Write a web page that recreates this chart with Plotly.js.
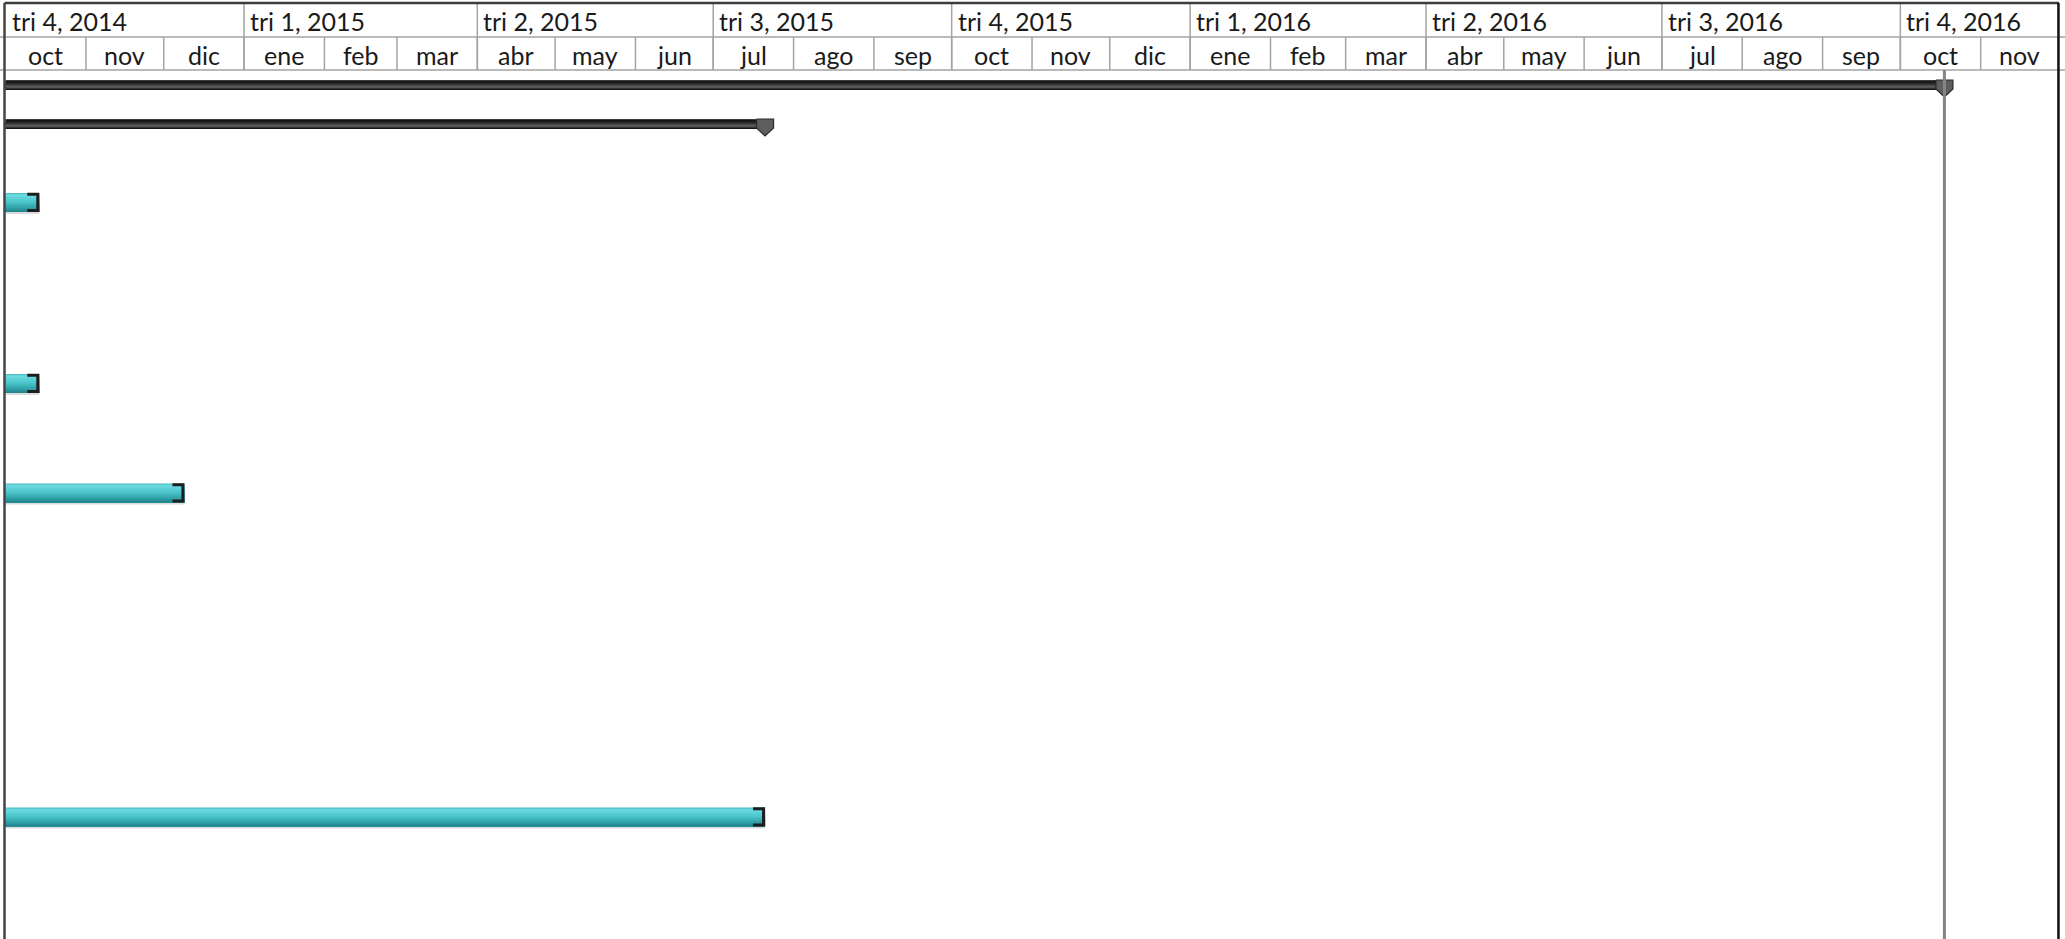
<!DOCTYPE html>
<html>
<head>
<meta charset="utf-8">
<script src="https://cdn.plot.ly/plotly-3.0.1.min.js"></script>
<style>
  html, body { margin: 0; padding: 0; background: #ffffff; }
  #chart { width: 2065px; height: 939px; }
</style>
</head>
<body>
<div id="chart"></div>
<script>
// ---------------- DATA ----------------
const taskIds     = [1, 2, 3, 4, 5, 6];
const taskType    = ['summary', 'summary', 'task', 'task', 'task', 'task'];
const taskStart   = ['2014-10-01', '2014-10-01', '2014-10-01', '2014-10-01', '2014-10-01', '2014-10-01'];
const taskFinish  = ['2016-10-17', '2015-07-20', '2014-10-13', '2014-10-13', '2014-12-08', '2015-07-20'];
const statusDate  = '2016-10-18';

const quarterStarts = ['2014-10-01', '2015-01-01', '2015-04-01', '2015-07-01', '2015-10-01',
                       '2016-01-01', '2016-04-01', '2016-07-01', '2016-10-01'];
const quarterLabels = ['tri 4, 2014', 'tri 1, 2015', 'tri 2, 2015', 'tri 3, 2015', 'tri 4, 2015',
                       'tri 1, 2016', 'tri 2, 2016', 'tri 3, 2016', 'tri 4, 2016'];
const monthLabels = ['oct', 'nov', 'dic', 'ene', 'feb', 'mar', 'abr', 'may', 'jun', 'jul', 'ago', 'sep',
                     'oct', 'nov', 'dic', 'ene', 'feb', 'mar', 'abr', 'may', 'jun', 'jul', 'ago', 'sep',
                     'oct', 'nov'];
const firstMonth = '2014-10-01';

// ---------------- LAYOUT HELPERS ----------------
const W = 2065, H = 939;
const DAY = 86400000;
const toMs = s => { const [Y, M, D] = s.split('-').map(Number); return Date.UTC(Y, M - 1, D); };
const pxPerDay = 2.592;
const msPerPx = DAY / pxPerDay;
const xStart = toMs(firstMonth) - 5.6 * msPerPx;
const xEnd = xStart + W * msPerPx;

// vertical row centres (y axis units = pixels from top of figure)
const rowCenter = [85, 124, 202.5, 383.5, 493, 817];
const hdrTop = 3, hdrMid = 37, hdrBot = 70;
const summaryH = 10, taskH = 19;

function hexToRgb(h) { h = h.replace('#', ''); return [0, 2, 4].map(i => parseInt(h.substr(i, 2), 16)); }
function interp(stops, t) {
  for (let i = 0; i < stops.length - 1; i++) {
    const [t0, c0] = stops[i], [t1, c1] = stops[i + 1];
    if (t >= t0 && t <= t1) {
      const f = (t - t0) / (t1 - t0 || 1);
      const a = hexToRgb(c0), b = hexToRgb(c1);
      return 'rgb(' + a.map((v, k) => Math.round(v + (b[k] - v) * f)).join(',') + ')';
    }
  }
  return stops[stops.length - 1][1];
}
const teal = [[0, '#35a9b1'], [0.08, '#6fdce3'], [0.45, '#4cc6cd'], [0.8, '#2e9ea5'], [1, '#1f7f87']];
const dark = [[0, '#5a5a5a'], [0.12, '#141414'], [0.35, '#262626'], [0.7, '#626262'], [0.86, '#303030'], [1, '#080808']];

const traces = [];
function bandTraces(type, h, stops, N) {
  const idx = taskIds.map((_, i) => i).filter(i => taskType[i] === type);
  const bh = h / N;
  for (let b = 0; b < N; b++) {
    // each band covers from its own top to the bar bottom; later bands paint over lower part
    const rem = h - bh * b;
    const off = -h / 2 + bh * b + rem / 2;
    traces.push({
      type: 'bar', orientation: 'h',
      y: idx.map(i => rowCenter[i] + off),
      base: idx.map(i => toMs(taskStart[i])),
      x: idx.map(i => toMs(taskFinish[i]) + DAY - toMs(taskStart[i])),
      width: idx.map(() => rem),
      marker: { color: interp(stops, (b + 0.5) / N), line: { width: 0 } },
      hoverinfo: 'skip', showlegend: false
    });
  }
  return idx;
}

// shadow under task bars
{
  const idx = taskIds.map((_, i) => i).filter(i => taskType[i] === 'task');
  traces.push({
    type: 'bar', orientation: 'h',
    y: idx.map(i => rowCenter[i] + taskH / 2 + 1),
    base: idx.map(i => toMs(taskStart[i])),
    x: idx.map(i => toMs(taskFinish[i]) + DAY - toMs(taskStart[i])),
    width: idx.map(() => 2),
    marker: { color: '#dcdcdc', line: { width: 0 } },
    hoverinfo: 'skip', showlegend: false
  });
}
const taskIdx = bandTraces('task', taskH, teal, 14);
const sumIdx = bandTraces('summary', summaryH, dark, 10);

// bracket end caps on task bars
{
  const bx = [], by = [];
  taskIdx.forEach(i => {
    const e = toMs(taskFinish[i]) + DAY;
    const top = rowCenter[i] - taskH / 2, bot = rowCenter[i] + taskH / 2;
    bx.push(e - 12 * msPerPx, e - 1.5 * msPerPx, e - 1.5 * msPerPx, e - 12 * msPerPx, null);
    by.push(top + 1.2, top + 1.2, bot - 1.5, bot - 1.5, null);
  });
  traces.push({
    type: 'scatter', mode: 'lines', x: bx, y: by,
    line: { color: '#1e1e1e', width: 3, shape: 'linear' },
    hoverinfo: 'skip', showlegend: false
  });
}

// summary end markers (pentagon pointing down)
{
  const mx = [], my = [];
  sumIdx.forEach(i => {
    const e = toMs(taskFinish[i]) + DAY;
    const top = rowCenter[i] - summaryH / 2;
    mx.push(e - 8.5 * msPerPx, e + 8.5 * msPerPx, e + 8.5 * msPerPx, e, e - 8.5 * msPerPx, e - 8.5 * msPerPx, null);
    my.push(top, top, top + 9, top + 17, top + 9, top, null);
  });
  traces.push({
    type: 'scatter', mode: 'lines', x: mx, y: my, fill: 'toself',
    fillcolor: '#5e5e5e', line: { color: '#2a2a2a', width: 1.2 },
    hoverinfo: 'skip', showlegend: false
  });
}

// ---------------- HEADER (timescale) ----------------
const shapes = [];
const annotations = [];
const gridCol = '#a3a3a3';
const hdrFont = { family: 'Lato, Carlito, sans-serif', size: 25, color: '#1a1a1a' };
const monthStarts = [];
{
  const [Y, M] = firstMonth.split('-').map(Number);
  for (let k = 0; k <= monthLabels.length; k++) monthStarts.push(Date.UTC(Y, M - 1 + k, 1));
}
monthLabels.forEach((lab, k) => {
  if (k > 0) shapes.push({ type: 'line', xref: 'x', yref: 'y', x0: monthStarts[k], x1: monthStarts[k], y0: hdrMid, y1: hdrBot, line: { color: gridCol, width: 1.5 } });
  annotations.push({ xref: 'x', yref: 'y', x: (monthStarts[k] + monthStarts[k + 1]) / 2, y: (hdrMid + hdrBot) / 2 + 1,
    text: lab, showarrow: false, xanchor: 'center', yanchor: 'middle', font: hdrFont });
});
quarterLabels.forEach((lab, k) => {
  const q = toMs(quarterStarts[k]);
  if (k > 0) shapes.push({ type: 'line', xref: 'x', yref: 'y', x0: q, x1: q, y0: hdrTop, y1: hdrBot, line: { color: gridCol, width: 1.5 } });
  annotations.push({ xref: 'x', yref: 'y', x: q, y: (hdrTop + hdrMid) / 2 + 1, xshift: 4,
    text: lab, showarrow: false, xanchor: 'left', yanchor: 'middle', font: hdrFont });
});
shapes.push({ type: 'line', xref: 'paper', yref: 'y', x0: 0, x1: 1, y0: hdrMid, y1: hdrMid, line: { color: gridCol, width: 1.5 } });
shapes.push({ type: 'line', xref: 'paper', yref: 'y', x0: 0, x1: 1, y0: hdrBot, y1: hdrBot, line: { color: gridCol, width: 1.5 } });

// status (today) line
shapes.push({ type: 'line', xref: 'x', yref: 'y', x0: toMs(statusDate), x1: toMs(statusDate), y0: hdrBot, y1: H,
  line: { color: '#858585', width: 3 }, layer: 'above' });

// frame
shapes.push({ type: 'line', xref: 'paper', yref: 'y', x0: 4.5 / W, x1: 2059 / W, y0: hdrTop, y1: hdrTop, line: { color: '#3c3c3c', width: 2.5 } });
shapes.push({ type: 'line', xref: 'paper', yref: 'y', x0: 4.5 / W, x1: 4.5 / W, y0: hdrTop, y1: H, line: { color: '#444444', width: 2.5 } });
shapes.push({ type: 'line', xref: 'x', yref: 'y', x0: monthStarts[monthStarts.length - 1], x1: monthStarts[monthStarts.length - 1], y0: hdrTop, y1: H, line: { color: '#111111', width: 2.5 } });

const layout = {
  width: W, height: H,
  margin: { l: 0, r: 0, t: 0, b: 0, pad: 0 },
  paper_bgcolor: '#ffffff', plot_bgcolor: '#ffffff',
  barmode: 'overlay',
  showlegend: false,
  xaxis: { type: 'date', range: [xStart, xEnd], visible: false, fixedrange: true },
  yaxis: { range: [H, 0], visible: false, fixedrange: true },
  shapes: shapes,
  annotations: annotations,
  hovermode: false
};

Plotly.newPlot('chart', traces, layout, { staticPlot: true, displayModeBar: false });
</script>
</body>
</html>
